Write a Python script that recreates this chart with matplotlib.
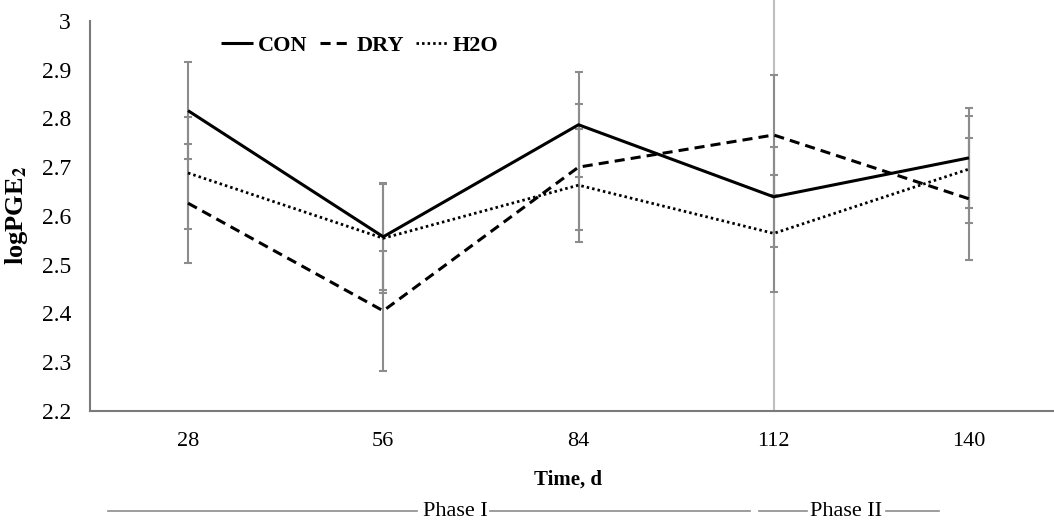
import matplotlib
matplotlib.use("Agg")
from matplotlib import pyplot as plt
from matplotlib.lines import Line2D
import matplotlib.transforms as mtrans
import numpy as np

plt.rcParams['font.family'] = ['Liberation Serif', 'DejaVu Serif']
plt.rcParams['mathtext.fontset'] = 'stix'

# data
days = ['28', '56', '84', '112', '140']
con = [2.816, 2.557, 2.787, 2.639, 2.719]
dry = [2.626, 2.405, 2.700, 2.766, 2.635]
h2o = [2.688, 2.554, 2.663, 2.564, 2.696]
con_err = [0.100, 0.109, 0.108, 0.103, 0.103]
dry_err = [0.122, 0.123, 0.130, 0.123, 0.125]
h2o_err = [0.115, 0.113, 0.116, 0.120, 0.110]
y_ticks = [2.2, 2.3, 2.4, 2.5, 2.6, 2.7, 2.8, 2.9, 3.0]

W, H = 1054, 529
fig = plt.figure(figsize=(W / 100, H / 100), dpi=100)
ax = fig.add_axes([90.4 / W, 1 - 410.7 / H, 976.2 / W, 389.7 / H])

x = np.arange(1, len(days) + 1)
err_color = '#8c8c8c'

for vals, errs in [(con, con_err), (dry, dry_err), (h2o, h2o_err)]:
    ax.errorbar(x, vals, yerr=errs, fmt='none', ecolor=err_color,
                elinewidth=1.5, capsize=3, capthick=1.5, zorder=2)

ax.plot(x, con, color='black', lw=2.2, label='CON', zorder=4,
        solid_capstyle='butt')
ax.plot(x, dry, color='black', lw=2.2, label='DRY', zorder=4,
        dashes=(3.3, 2.0))
ax.plot(x, h2o, color='black', lw=2.0, label='H2O', zorder=4,
        dashes=(0.9, 1.1))

# phase divider at day 112
trans = mtrans.blended_transform_factory(ax.transData, ax.transAxes)
ax.plot([4, 4], [0, 1.06], color='#bfbfbf', lw=1.5, transform=trans,
        clip_on=False, zorder=1)

ax.set_xlim(0.5, 5.5)
ax.set_ylim(2.2, 3.0)
ax.set_xticks(x)
ax.set_xticklabels(days)
ax.set_yticks(y_ticks)
ax.set_yticklabels([f'{v:g}' for v in y_ticks])
ax.tick_params(length=0)
ax.tick_params(axis='x', labelsize=16, pad=15)
ax.tick_params(axis='y', labelsize=17, pad=14)

for s in ['top', 'right']:
    ax.spines[s].set_visible(False)
for s in ['left', 'bottom']:
    ax.spines[s].set_color('#7a7a7a')
    ax.spines[s].set_linewidth(1.5)

ax.set_ylabel(r'logPGE$_\mathbf{2}$', fontsize=19, fontweight='bold')
ax.yaxis.set_label_coords(-60 / 976.2, 0.5)
fig.text(568 / W, 1 - 480 / H, 'Time, d', fontsize=15, fontweight='bold',
         ha='center', va='center')

leg = ax.legend(loc='center left', bbox_to_anchor=(0.134, 0.937), ncol=3,
                frameon=False, prop={'weight': 'bold', 'size': 16},
                handlelength=1.45, handletextpad=0.2, columnspacing=0.55,
                borderpad=0, borderaxespad=0)

# phase annotation under the axis
ly = 1 - 511 / H
line_color = '#8c8c8c'
for x0, x1 in [(108, 417), (490, 750), (759, 807), (886, 939)]:
    fig.add_artist(Line2D([x0 / W, x1 / W], [ly, ly], color=line_color, lw=1.2))
fig.text(455 / W, ly, 'Phase I', fontsize=16, ha='center', va='center')
fig.text(846 / W, ly, 'Phase II', fontsize=16, ha='center', va='center')

fig.savefig('out.png', dpi=100)
